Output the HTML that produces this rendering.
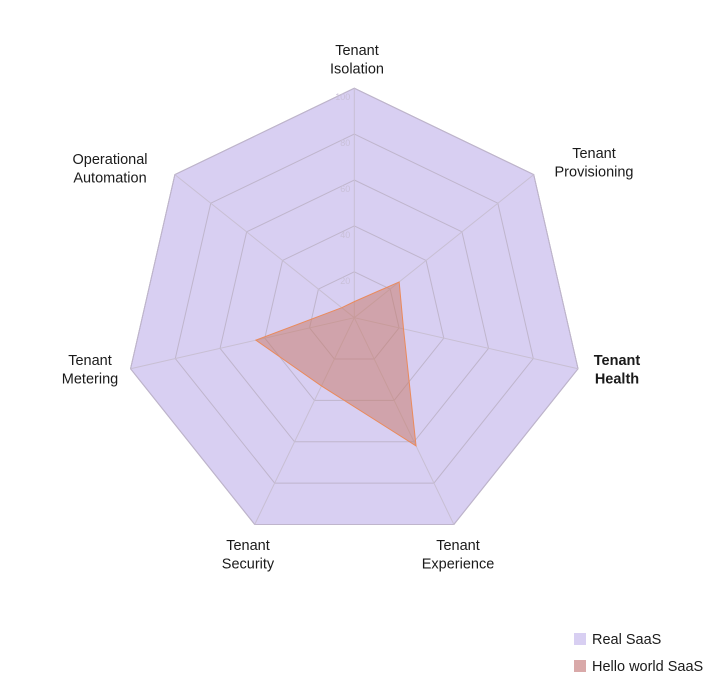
<!DOCTYPE html>
<html><head><meta charset="utf-8"><style>
body{margin:0;background:#fff;font-family:"Liberation Sans",sans-serif}
svg{display:block}
</style></head><body>
<svg id="chart" width="720" height="693"></svg>
<script>
const axes = [["Tenant","Isolation"],["Tenant","Provisioning"],["Tenant","Health"],["Tenant","Experience"],["Tenant","Security"],["Tenant","Metering"],["Operational","Automation"]];
const realSaas = [100,100,100,100,100,100,100];
const helloSaas = [7,25,22,62,33,44,7];
const ticks = [20,40,60,80,100];
const NS="http://www.w3.org/2000/svg";
const svg=document.getElementById('chart');
const cx=354.3, cy=317.7, R=229.5, maxV=100;
function pt(i,v){const a=i*2*Math.PI/axes.length;const r=v/maxV*R;return [cx+r*Math.sin(a), cy-r*Math.cos(a)];}
function mk(t,attrs){const e=document.createElementNS(NS,t);for(const k in attrs)e.setAttribute(k,attrs[k]);svg.appendChild(e);return e;}
// real saas polygon
let p=mk('polygon',{points:realSaas.map((v,i)=>pt(i,v).join(',')).join(' '),fill:'#d8cff2',stroke:'#a9a3b4','stroke-width':1});


// grid rings
ticks.forEach(t=>{const g=mk('polygon',{points:axes.map((_,i)=>pt(i,t).join(',')).join(' '),fill:'none',stroke:'#bfb5cc','stroke-width':1});

});
axes.forEach((_,i)=>{const e=pt(i,maxV);const l=mk('line',{x1:cx,y1:cy,x2:e[0],y2:e[1],stroke:'#c8bfd3','stroke-width':1});

});
ticks.forEach(t=>{const e=pt(0,t);const tx=mk('text',{x:e[0]-4,y:e[1]+12,'text-anchor':'end','font-size':9,fill:'#c9c0d8'});tx.textContent=t;

});
// hello polygon
p=mk('polygon',{points:helloSaas.map((v,i)=>pt(i,v).join(',')).join(' '),fill:'rgba(200,120,100,0.5)',stroke:'#ea8a5c','stroke-width':1});


// labels
const labelPos=[[357,50,'middle'],[594,153,'middle'],[617,360,'middle'],[458,545,'middle'],[248,545,'middle'],[90,360,'middle'],[110,159,'middle']];
axes.forEach((a,i)=>{const [x,y,anc]=labelPos[i];const t=mk('text',{x:x,y:y+5,'text-anchor':anc,'font-size':14.5,fill:'#1a1a1a','font-weight':i==2?'bold':'normal'});


a.forEach((s,k)=>{const ts=document.createElementNS(NS,'tspan');ts.setAttribute('x',x);ts.setAttribute('dy',k?18.5:0);ts.textContent=s;t.appendChild(ts);});});
// legend
[["Real SaaS","#d8cff2",639],["Hello world SaaS","#d9a9a9",666]].forEach(([n,c,y])=>{
const r=mk('rect',{x:574,y:y-6,width:12,height:12,fill:c});


const t=mk('text',{x:592,y:y+5,'font-size':14.5,fill:'#1a1a1a'});t.textContent=n;

});
</script>
</body></html>
